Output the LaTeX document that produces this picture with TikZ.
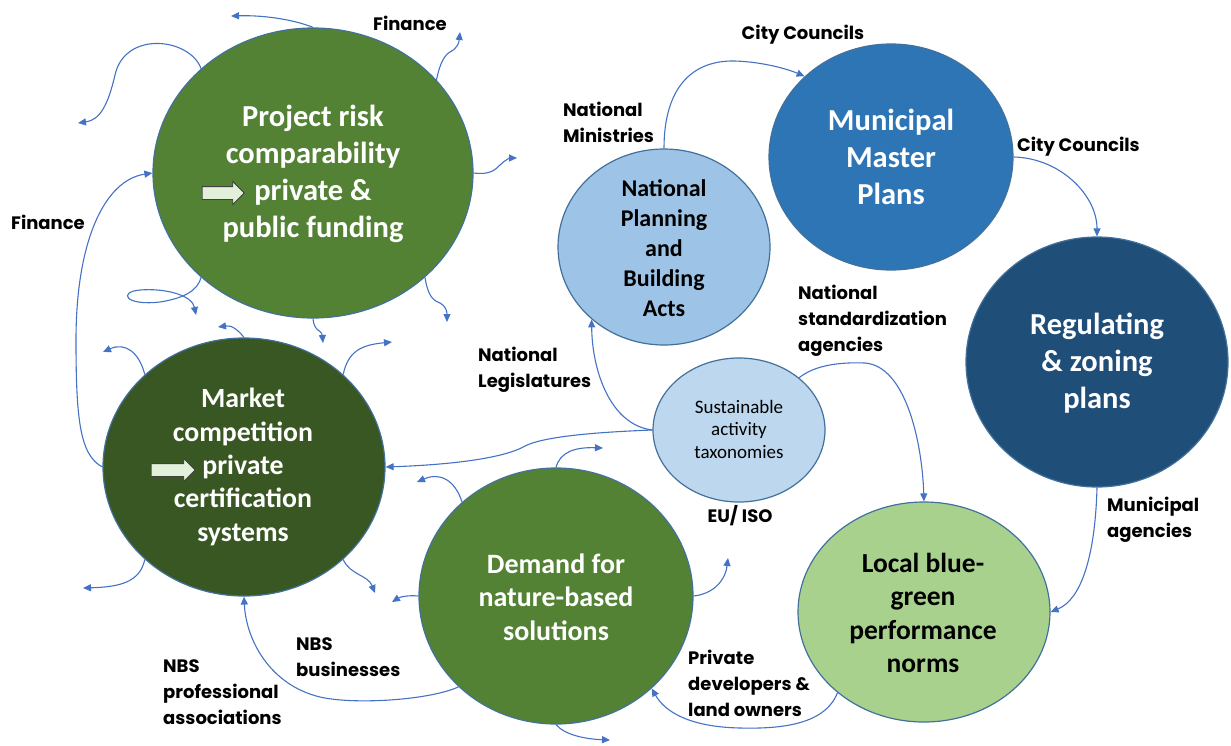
\documentclass[tikz,border=0pt]{standalone}
\usepackage{fontspec}
\setmainfont{Carlito}
\newfontfamily\gothic{Poppins}
\usetikzlibrary{shapes.geometric,shapes.arrows,arrows.meta,positioning}

\definecolor{leaf}{HTML}{548235}
\definecolor{forest}{HTML}{385723}
\definecolor{sky}{HTML}{9DC3E6}
\definecolor{pale}{HTML}{BDD7EE}
\definecolor{midblue}{HTML}{2E75B6}
\definecolor{navy}{HTML}{1F4E79}
\definecolor{lime}{HTML}{A9D18E}
\definecolor{rim}{HTML}{41719C}
\definecolor{linkblue}{HTML}{4472C4}
\definecolor{mint}{HTML}{E2F0D9}

\begin{document}
\begin{tikzpicture}[
    x=1pt, y=-1pt,
    circ/.style={ellipse, draw=rim, line width=1.2pt, inner sep=0pt},
    big/.style={align=center, inner sep=0pt, text=white, font=\bfseries\fontsize{30.5}{37}\selectfont},
    lbl/.style={align=left, inner sep=0pt, font=\gothic\bfseries\fontsize{18}{26}\selectfont},
    flow/.style={draw=linkblue, line width=1.1pt, -{Triangle[length=8pt,width=7pt]}},
    hint/.style={single arrow, draw=black!75, fill=mint, line width=0.8pt, minimum height=42pt, single arrow head extend=5pt, inner sep=6pt}
]
\path[fill=white, use as bounding box] (0,0) rectangle (1231,745);

% circles
\node[circ, fill=leaf, minimum width=320pt, minimum height=290pt] (pr) at (313,173) {};
\node[circ, fill=forest, minimum width=282pt, minimum height=258pt] (mc) at (244,467) {};
\node[circ, fill=leaf, minimum width=274pt, minimum height=256pt] (dn) at (556,596) {};
\node[circ, fill=sky, minimum width=212pt, minimum height=196pt] (np) at (664,247) {};
\node[circ, fill=midblue, minimum width=244pt, minimum height=226pt] (mp) at (891,157) {};
\node[circ, fill=navy, minimum width=262pt, minimum height=250pt] (rz) at (1097,362) {};
\node[circ, fill=pale, minimum width=172pt, minimum height=144pt] (sa) at (739,430) {};
\node[circ, fill=lime, minimum width=252pt, minimum height=220pt] (lb) at (924,612) {};

% circle texts
\node[big] (prtext) at (313,174) {Project risk\\comparability\\private \&\\public funding};
\node[big, font=\bfseries\fontsize{27.8}{33.3}\selectfont] (mctext) at (243,467) {Market\\competition\\private\\certification\\systems};
\node[big, font=\bfseries\fontsize{28}{33.5}\selectfont] (dntext) at (556,597) {Demand for\\nature-based\\solutions};
\node[big, text=black, font=\bfseries\fontsize{24}{30}\selectfont] (nptext) at (664,248) {National\\Planning\\and\\Building\\Acts};
\node[big] (mptext) at (891,157) {Municipal\\Master\\Plans};
\node[big] (rztext) at (1097,363) {Regulating\\\& zoning\\plans};
\node[big, text=black, font=\fontsize{19}{22.5}\selectfont] (satext) at (739,429) {Sustainable\\activity\\taxonomies};
\node[big, text=black, font=\bfseries\fontsize{27.5}{33.5}\selectfont] (lbtext) at (923,613) {Local blue-\\green\\performance\\norms};

% hint arrows
\node[hint] (prhint) at (220,193) {};
\node[hint, minimum height=44pt] (mchint) at (170,470) {};

% labels
\node[lbl] (fin1) at (410,23) {Finance};
\node[lbl] (fin2) at (48,222) {Finance};
\node[lbl] (cc1) at (803,35) {City Councils};
\node[lbl, anchor=west] (nm) at (563,122) {National\\Ministries};
\node[lbl, anchor=west] (cc2) at (1017,147) {City Councils};
\node[lbl, anchor=west] (nsa) at (798,321) {National\\standardization\\agencies};
\node[lbl, anchor=west] (nl) at (478,370) {National\\Legislatures};
\node[lbl] (eu) at (740,516) {EU/ ISO};
\node[lbl, anchor=west] (ma) at (1107,520) {Municipal\\agencies};
\node[lbl, anchor=west] (nbsb) at (296,657) {NBS\\businesses};
\node[lbl, anchor=west] (nbsp) at (163,692) {NBS\\professional\\associations};
\node[lbl, anchor=west] (pd) at (688,683) {Private\\developers \&\\land owners};

% loose ends
\coordinate (pr1) at (231,16);
\coordinate (pr2) at (78,123);
\coordinate (pr3) at (460,32);
\coordinate (pr4) at (517,158);
\coordinate (pr5) at (447,322);
\coordinate (pr6) at (323,343);
\coordinate (pr7) at (196,315);
\coordinate (mc1) at (103,352);
\coordinate (mc2) at (218,327);
\coordinate (mc3) at (392,342);
\coordinate (mc4) at (83,588);
\coordinate (mc5) at (375,593);
\coordinate (dn1) at (417,482);
\coordinate (dn2) at (603,448);
\coordinate (dn3) at (392,602);
\coordinate (dn4) at (728,558);
\coordinate (dn5) at (610,740);

% project risk
\draw[flow] (pr.90) .. controls (295,20) and (265,15) .. (pr1);
\draw[flow] (pr.137) .. controls (190,38) and (125,30) .. (115,75) .. controls (108,105) and (100,120) .. (pr2);
\draw[flow] (pr.37) .. controls (440,62) and (445,55) .. (450,52) .. controls (458,48) and (459,42) .. (pr3);
\draw[flow] (pr.0) .. controls (490,175) and (495,170) .. (500,165) .. controls (505,160) and (510,158) .. (pr4);
\draw[flow] (pr.-43) .. controls (428,295) and (432,300) .. (440,303) .. controls (446,306) and (447,312) .. (pr5);
\draw[flow] (pr.-90) .. controls (314,332) and (322,330) .. (pr6);
\draw[flow] (pr.-137) .. controls (198,290) and (185,298) .. (160,302) .. controls (125,306) and (118,292) .. (140,290) .. controls (165,288) and (192,295) .. (pr7);

% market competition
\draw[flow] (mc.137) .. controls (139,352) and (125,342) .. (mc1);
\draw[flow] (mc.90) .. controls (238,330) and (232,325) .. (mc2);
\draw[flow] (mc.43) .. controls (348,352) and (360,345) .. (mc3);
\draw[flow] (mc.-137) .. controls (140,582) and (120,587) .. (mc4);
\draw[flow] (mc.-43) .. controls (350,575) and (368,575) .. (mc5);
\draw[flow] (mc.180) .. controls (80,455) and (76,420) .. (76,340) .. controls (76,240) and (105,180) .. (pr.180);

% demand
\draw[flow] (dn.135) .. controls (455,480) and (440,472) .. (dn1);
\draw[flow] (dn.90) .. controls (560,452) and (575,447) .. (dn2);
\draw[flow] (dn.180) .. controls (408,595) and (400,597) .. (dn3);
\draw[flow] (dn.0) .. controls (712,594) and (725,582) .. (dn4);
\draw[flow] (dn.-90) .. controls (565,735) and (585,739) .. (dn5);
\draw[flow] (dn.-137) .. controls (430,700) and (355,705) .. (320,697) .. controls (270,685) and (246,640) .. (mc.-90);

% regulation chain
\draw[flow] (sa.180) .. controls (600,432) and (545,436) .. (525,446) .. controls (510,455) and (470,464) .. (mc.0);
\draw[flow] (sa.180) .. controls (610,425) and (592,370) .. (np.-135);
\draw[flow] (sa.41) .. controls (815,365) and (840,362) .. (865,363) .. controls (905,366) and (922,440) .. (lb.90);
\draw[flow] (np.90) .. controls (664,90) and (690,60) .. (735,61) .. controls (765,62) and (790,70) .. (mp.137);
\draw[flow] (mp.0) .. controls (1060,158) and (1097,195) .. (rz.90);
\draw[flow] (rz.-90) .. controls (1095,560) and (1080,600) .. (lb.0);
\draw[flow] (lb.-137) .. controls (825,725) and (780,729) .. (740,728) .. controls (690,727) and (665,712) .. (dn.-44);
\end{tikzpicture}
\end{document}
